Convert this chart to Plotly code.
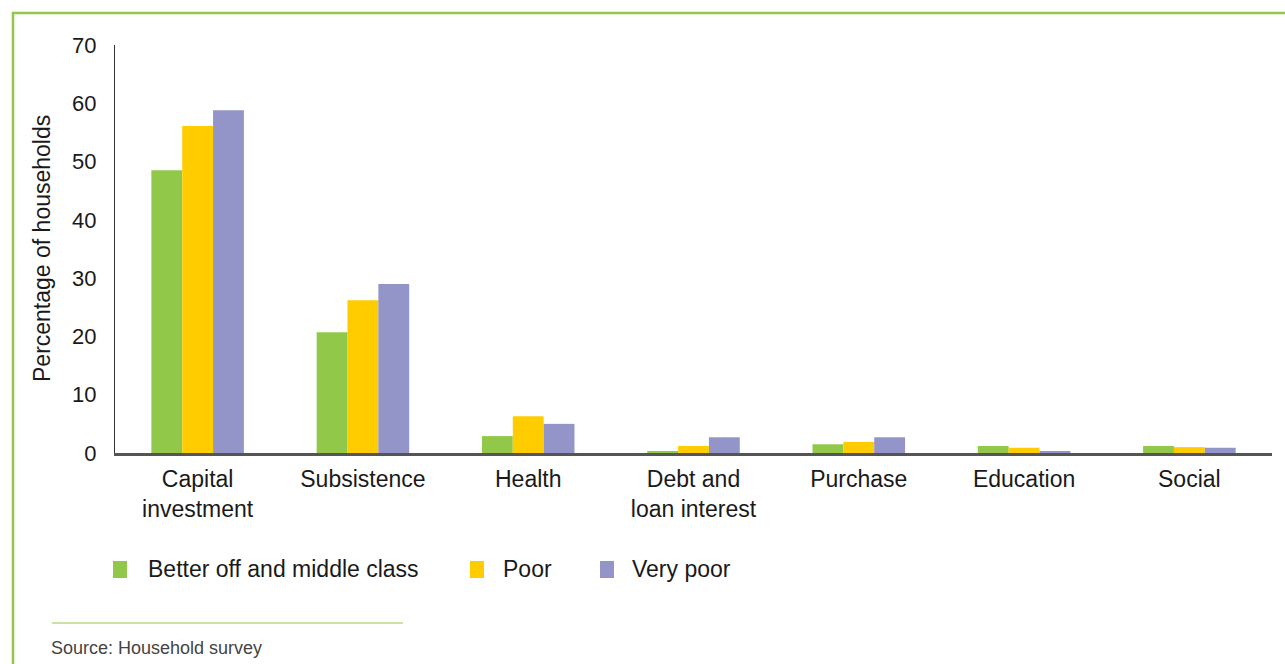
import plotly.graph_objects as go

# Household survey: share of households by use of loan / income
categories = ["Capital<br>investment", "Subsistence", "Health", "Debt and<br>loan interest",
              "Purchase", "Education", "Social"]
better_off = [48.5, 20.7, 2.9, 0.3, 1.5, 1.2, 1.2]
poor = [56.1, 26.2, 6.3, 1.2, 1.9, 0.9, 1.0]
very_poor = [58.8, 29.0, 5.0, 2.7, 2.7, 0.3, 0.9]
series_names = ["Better off and middle class", "Poor", "Very poor"]
y_ticks = [0, 10, 20, 30, 40, 50, 60, 70]

COLORS = ["#92C84A", "#FFCC00", "#9395C9"]
FRAME_GREEN = "#92C84A"
FONT = "Liberation Sans, Arial, Helvetica, sans-serif"
TEXT = "#1a1a1a"

W, H = 1285, 664
ML, MR, MT, MB = 115, 13, 45, 211
PW, PH = W - ML - MR, H - MT - MB


def px_x(x):
    return (x - ML) / PW


def px_y(y):
    return (H - MB - y) / PH


fig = go.Figure()
for name, vals, col in zip(series_names, [better_off, poor, very_poor], COLORS):
    fig.add_trace(go.Bar(x=categories, y=vals, name=name, marker_color=col,
                         marker_line_width=0, showlegend=False))

fig.update_layout(
    width=W, height=H,
    margin=dict(l=ML, r=MR, t=MT, b=MB),
    paper_bgcolor="white", plot_bgcolor="white",
    barmode="group", bargap=0.44, bargroupgap=0,
    font=dict(family=FONT, size=22, color=TEXT),
    xaxis=dict(showgrid=False, showline=True, linecolor="#555555", linewidth=3,
               ticks="", ticklabelstandoff=3, tickfont=dict(size=23, color=TEXT),
               range=[-0.5, 6.5]),
    yaxis=dict(range=[0, 70], tickvals=y_ticks, showgrid=False, zeroline=False,
               showline=True, linecolor="#333333", linewidth=1, ticks="",
               ticklabelstandoff=13, tickfont=dict(size=22, color=TEXT)),
)

shapes = [
    # outer green frame (top and left edges)
    dict(type="line", xref="paper", yref="paper", x0=px_x(12), x1=px_x(1290),
         y0=px_y(13), y1=px_y(13), line=dict(color=FRAME_GREEN, width=2.5)),
    dict(type="line", xref="paper", yref="paper", x0=px_x(13), x1=px_x(13),
         y0=px_y(12), y1=px_y(670), line=dict(color=FRAME_GREEN, width=2.5)),
    # rule above the source note
    dict(type="line", xref="paper", yref="paper", x0=px_x(52), x1=px_x(403),
         y0=px_y(623), y1=px_y(623), line=dict(color=FRAME_GREEN, width=1)),
]

annotations = [
    dict(text="Percentage of households", xref="paper", yref="paper",
         x=px_x(42), y=px_y(249), textangle=-90, showarrow=False,
         font=dict(size=23, color=TEXT), xanchor="center", yanchor="middle"),
    dict(text="Source: Household survey", xref="paper", yref="paper",
         x=px_x(49), y=px_y(648), showarrow=False, xanchor="left", yanchor="middle",
         font=dict(size=18, color="#444444")),
]

# legend row: coloured square followed by its label
legend_pos = [(113, 146), (470, 501), (600, 630)]
for (sx, tx), name, col in zip(legend_pos, series_names, COLORS):
    shapes.append(dict(type="rect", xref="paper", yref="paper",
                       x0=px_x(sx), x1=px_x(sx + 14), y0=px_y(561), y1=px_y(578),
                       fillcolor=col, line=dict(width=0)))
    annotations.append(dict(text=name, xref="paper", yref="paper", x=px_x(tx),
                            y=px_y(569), showarrow=False, xanchor="left",
                            yanchor="middle", font=dict(size=23, color=TEXT)))

fig.update_layout(shapes=shapes, annotations=annotations)
fig.write_html("out.html")
